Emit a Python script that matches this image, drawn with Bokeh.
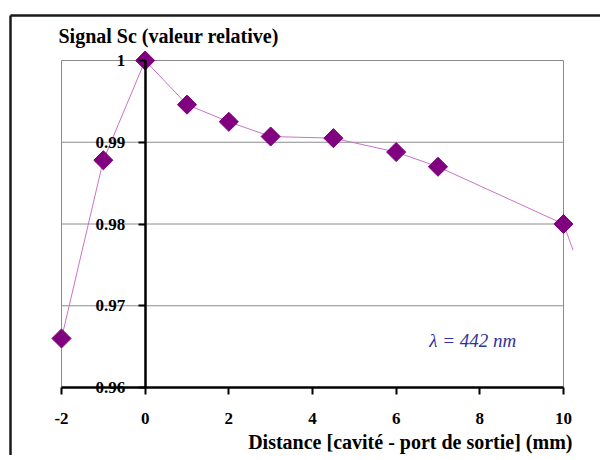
import numpy as np
from bokeh.plotting import figure
from bokeh.models import Range1d, FixedTicker, Label
from bokeh.embed import file_html
from bokeh.resources import INLINE

# ---- data ----
distance = [-2, -1, 0, 1, 2, 3, 4.5, 6, 7, 10]
signal = [0.9660, 0.9878, 1.0000, 0.9946, 0.9925, 0.9907, 0.9905, 0.9888, 0.9870, 0.9800]
# line continues past the last marker (cut at the chart edge)
line_x = distance + [10.23]
line_y = signal + [0.9768]

x_ticks = [-2, 0, 2, 4, 6, 8, 10]
x_tick_labels = ["-2", "0", "2", "4", "6", "8", "10"]
y_ticks = [0.96, 0.97, 0.98, 0.99, 1.0]
y_tick_labels = ["0.96", "0.97", "0.98", "0.99", "1"]
grid_levels = [0.97, 0.98, 0.99, 1.0]

title_text = "Signal Sc (valeur relative)"
xlabel_text = "Distance [cavité - port de sortie] (mm)"
note_text = "λ = 442 nm"
note_pos = (7.83, 0.96575)

SERIF = "Liberation Serif"

# ---- layout (pixels inside the canvas) ----
W, H = 600, 455
PL, PR = 61, 563      # plot area left / right edge (x = -2 / x = 10)
PT, PB = 60, 387      # plot area top / bottom edge (y = 1 / y = 0.96)
BOX_L, BOX_T = 10, 15 # outer chart-area border

xmin, xmax = x_ticks[0], x_ticks[-1]
ymin, ymax = y_ticks[0], y_ticks[-1]
sx = (PR - PL) / (xmax - xmin)
sy = (PB - PT) / (ymax - ymin)
x0 = xmin - PL / sx
x1 = x0 + W / sx
y1 = ymax + PT / sy
y0 = y1 - H / sy

p = figure(width=W, height=H, output_backend="svg", toolbar_location=None,
           x_range=Range1d(x0, x1), y_range=Range1d(y0, y1),
           min_border=0, min_border_left=0, min_border_right=0,
           min_border_top=0, min_border_bottom=0)
p.outline_line_color = None
p.xgrid.visible = False
p.ygrid.visible = False
p.background_fill_color = "white"
p.border_fill_color = "white"

# outer chart-area border (top and left visible)
bx = x0 + BOX_L / sx
by = y1 - BOX_T / sy
p.segment(x0=[bx, bx], y0=[by, by], x1=[x1, bx], y1=[by, y0],
          line_color="#1a1a1a", line_width=2.5)

# plot-area grid and border
p.segment(x0=[xmin] * len(grid_levels), x1=[xmax] * len(grid_levels),
          y0=grid_levels, y1=grid_levels, line_color="#8c8c8c", line_width=1)
p.segment(x0=[xmin, xmax], x1=[xmin, xmax], y0=[ymin] * 2, y1=[ymax] * 2,
          line_color="#8c8c8c", line_width=1)

# axes
xa = p.xaxis[0]
xa.fixed_location = ymin
xa.ticker = FixedTicker(ticks=x_ticks)
xa.major_label_overrides = {t: l for t, l in zip(x_ticks, x_tick_labels)}
xa.bounds = (xmin, xmax)
xa.axis_line_width = 2.5
xa.axis_line_color = "black"
xa.major_tick_line_width = 2
xa.major_tick_out = 7
xa.major_tick_in = 0
xa.minor_tick_line_color = None
xa.major_label_text_font = SERIF
xa.major_label_text_font_style = "bold"
xa.major_label_text_font_size = "17px"
xa.major_label_text_color = "black"
xa.major_label_standoff = 18

ya = p.yaxis[0]
ya.fixed_location = 0
ya.ticker = FixedTicker(ticks=y_ticks)
ya.bounds = (ymin, ymax)
ya.major_label_overrides = {t: l for t, l in zip(y_ticks, y_tick_labels)}
ya.axis_line_width = 2.5
ya.axis_line_color = "black"
ya.major_tick_line_width = 2
ya.major_tick_out = 7
ya.major_tick_in = 0
ya.minor_tick_line_color = None
ya.major_label_text_font = SERIF
ya.major_label_text_font_style = "bold"
ya.major_label_text_font_size = "17px"
ya.major_label_text_color = "black"
ya.major_label_standoff = 13

# data
p.line(line_x, line_y, line_color="#c873c8", line_width=1)
p.scatter(distance, signal, marker="square", size=13.5, angle=np.pi / 4,
          fill_color="#800080", line_color="#800080")

# texts
p.add_layout(Label(x=xmin, y=ymax, x_offset=-3, y_offset=25, text=title_text,
                   text_font=SERIF, text_font_style="bold", text_font_size="20px",
                   text_baseline="middle", text_align="left", text_color="black"))
p.add_layout(Label(x=xmax, y=ymin, x_offset=9, y_offset=-54, text=xlabel_text,
                   text_font=SERIF, text_font_style="bold", text_font_size="20px",
                   text_baseline="middle", text_align="right", text_color="black"))
p.add_layout(Label(x=note_pos[0], y=note_pos[1], text=note_text,
                   text_font=SERIF, text_font_style="italic", text_font_size="19px",
                   text_baseline="middle", text_align="center", text_color="#333399"))

open("out.html", "w").write(file_html(p, INLINE))
